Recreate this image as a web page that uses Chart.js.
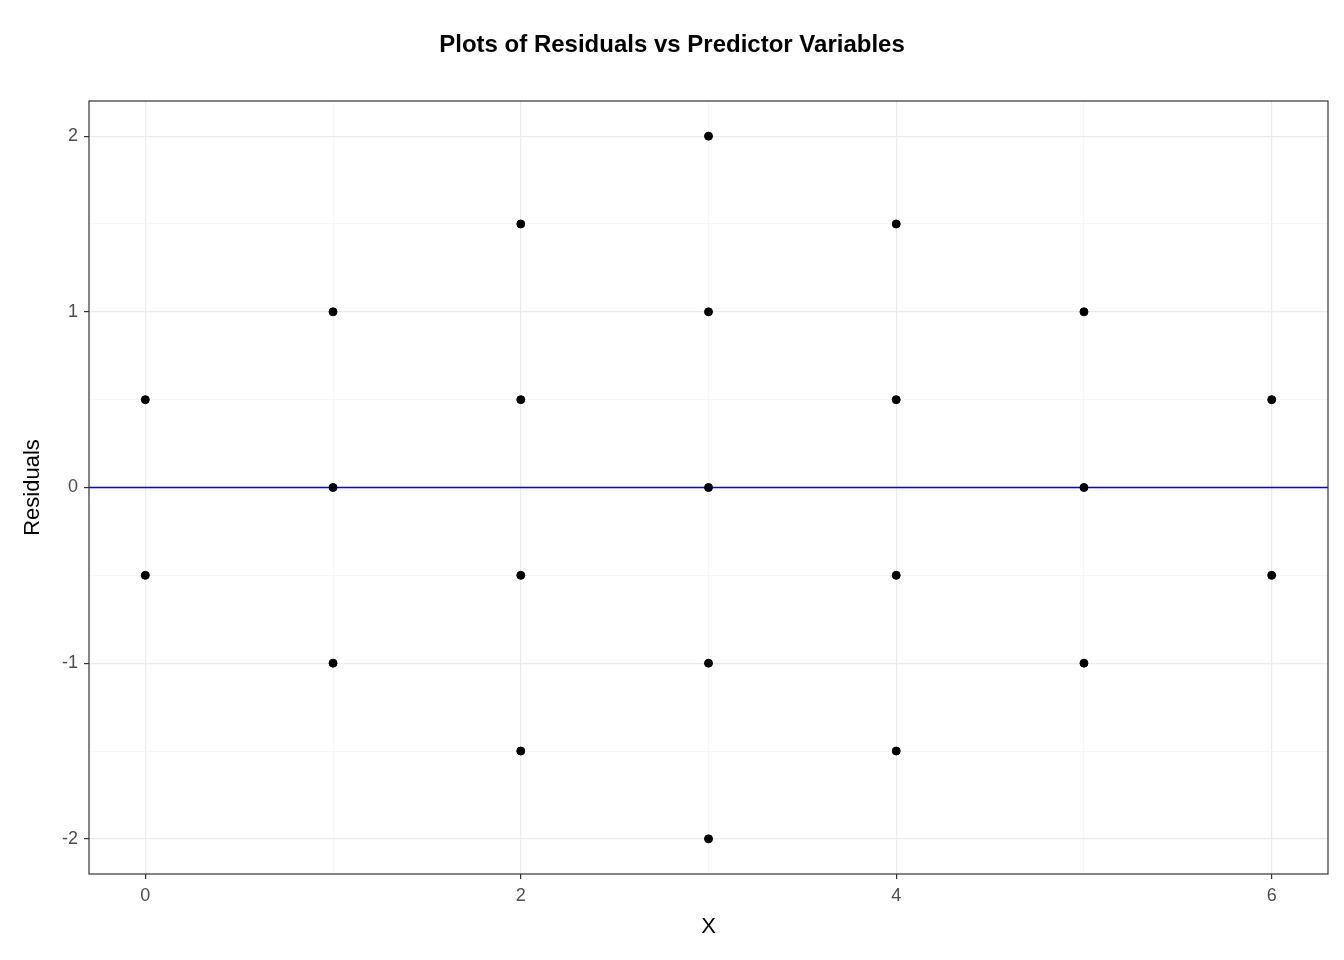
<!DOCTYPE html>
<html>
<head>
<meta charset="utf-8">
<script src="https://cdn.jsdelivr.net/npm/chart.js@4"></script>
<style>
  body { margin: 0; background: #fff; }
  #wrap { width: 1344px; height: 960px; }
</style>
</head>
<body>
<div id="wrap"><canvas id="c"></canvas></div>
<script>
// residuals grouped by predictor value
const xValues = [0, 0, 1, 1, 1, 2, 2, 2, 2, 3, 3, 3, 3, 3, 4, 4, 4, 4, 5, 5, 5, 6, 6];
const residuals = [0.5, -0.5, 1, 0, -1, 1.5, 0.5, -0.5, -1.5, 2, 1, 0, -1, -2, 1.5, 0.5, -0.5, -1.5, 1, 0, -1, 0.5, -0.5];
const refLine = [{ x: -0.3, y: 0 }, { x: 6.3, y: 0 }];

const FONT = '"Liberation Sans", Arial, sans-serif';

const panelBorder = {
  id: 'panelBorder',
  afterDraw(chart) {
    const { ctx, chartArea: a } = chart;
    ctx.save();
    ctx.strokeStyle = '#333';
    ctx.lineWidth = 1.2;
    ctx.strokeRect(a.left, a.top, a.right - a.left, a.bottom - a.top);
    ctx.fillStyle = '#000';
    ctx.font = 'bold 24px ' + FONT;
    ctx.textAlign = 'center';
    ctx.textBaseline = 'middle';
    ctx.fillText('Plots of Residuals vs Predictor Variables', 672, 45);
    ctx.restore();
  }
};

new Chart(document.getElementById('c'), {
  type: 'scatter',
  data: {
    datasets: [
      {
        data: refLine,
        type: 'line',
        borderColor: '#0000ff',
        borderWidth: 1.5,
        pointRadius: 0,
        order: 2
      },
      {
        data: xValues.map((x, i) => ({ x: x, y: residuals[i] })),
        backgroundColor: '#000',
        borderColor: '#000',
        pointRadius: 4,
        order: 1
      }
    ]
  },
  options: {
    responsive: true,
    maintainAspectRatio: false,
    animation: false,
    layout: { padding: { top: 101, right: 16, left: 16, bottom: 16 } },
    plugins: { legend: { display: false }, tooltip: { enabled: false } },
    scales: {
      x: {
        type: 'linear',
        min: -0.3,
        max: 6.3,
        afterBuildTicks: s => { s.ticks = [0, 1, 2, 3, 4, 5, 6].map(v => ({ value: v })); },
        afterFit: s => { s.height = 70; },
        border: { display: false },
        grid: {
          color: c => (c.tick && c.tick.value % 2 === 0) ? '#ebebeb' : '#f5f5f5',
          lineWidth: c => (c.tick && c.tick.value % 2 === 0) ? 1.2 : 0.8,
          tickColor: c => (c.tick && c.tick.value % 2 === 0) ? '#333' : 'rgba(0,0,0,0)',
          tickLength: 5
        },
        ticks: {
          autoSkip: false,
          maxRotation: 0,
          padding: 6,
          color: '#4d4d4d',
          font: { family: FONT, size: 18 },
          callback: v => (v % 2 === 0 ? v : '')
        },
        title: { display: true, text: 'X', color: '#000', font: { family: FONT, size: 22 }, padding: { top: 4 } }
      },
      y: {
        type: 'linear',
        min: -2.2,
        max: 2.2,
        afterBuildTicks: s => { s.ticks = [-2, -1.5, -1, -0.5, 0, 0.5, 1, 1.5, 2].map(v => ({ value: v })); },
        afterFit: s => { s.width = 73; },
        border: { display: false },
        grid: {
          color: c => (c.tick && Number.isInteger(c.tick.value)) ? '#ebebeb' : '#f5f5f5',
          lineWidth: c => (c.tick && Number.isInteger(c.tick.value)) ? 1.2 : 0.8,
          tickColor: c => (c.tick && Number.isInteger(c.tick.value)) ? '#333' : 'rgba(0,0,0,0)',
          tickLength: 5
        },
        ticks: {
          autoSkip: false,
          padding: 6,
          color: '#4d4d4d',
          font: { family: FONT, size: 18 },
          callback: v => (Number.isInteger(v) ? v : '')
        },
        title: { display: true, text: 'Residuals', color: '#000', font: { family: FONT, size: 22 } }
      }
    }
  },
  plugins: [panelBorder]
});
</script>
</body>
</html>
